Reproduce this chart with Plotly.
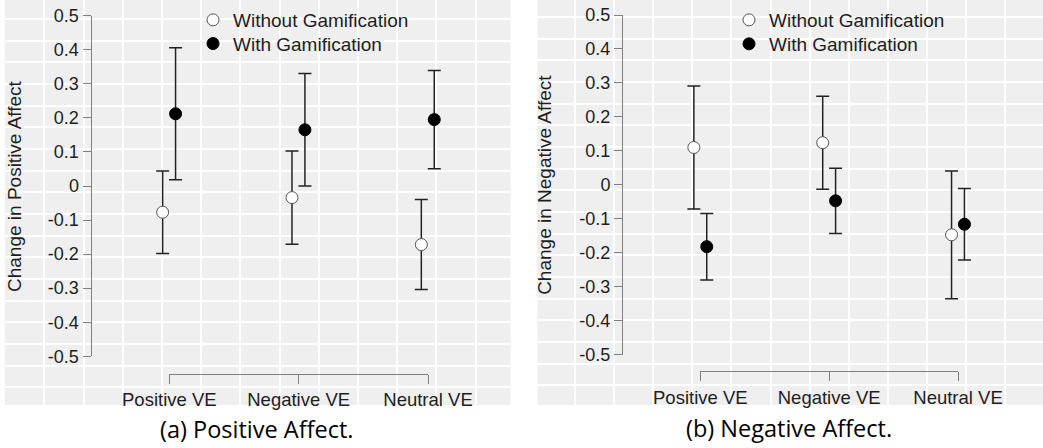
import plotly.graph_objects as go
import numpy as np

# ---------------- data ----------------
categories = ["Positive VE", "Negative VE", "Neutral VE"]
series_names = ["Without Gamification", "With Gamification"]

# (a) Change in Positive Affect
pa_without_mean = [-0.077, -0.034, -0.172]
pa_without_err = [0.121, 0.137, 0.132]
pa_with_mean = [0.212, 0.165, 0.195]
pa_with_err = [0.194, 0.165, 0.144]

# (b) Change in Negative Affect
na_without_mean = [0.110, 0.124, -0.147]
na_without_err = [0.181, 0.137, 0.188]
na_with_mean = [-0.182, -0.047, -0.116]
na_with_err = [0.098, 0.096, 0.105]

y_tickvals = [0.5, 0.4, 0.3, 0.2, 0.1, 0.0, -0.1, -0.2, -0.3, -0.4, -0.5]
y_ticktext = ["0.5", "0.4", "0.3", "0.2", "0.1", "0", "-0.1", "-0.2", "-0.3", "-0.4", "-0.5"]

y_titles = ["Change in Positive Affect", "Change in Negative Affect"]
captions = ["(a) Positive Affect.", "(b) Negative Affect."]

# ---------------- style / layout helpers ----------------
W, H = 1043, 448
DODGE = 0.05


def fx(p):
    return p / W


def fy(p):
    return 1 - p / H


FONT = "Liberation Sans, Arial, sans-serif"
TXT = "#1e1e1e"
AXC = "#808080"
BG = "#efefef"

cat_pos = np.arange(1, len(categories) + 1)

# axis ids: background grid -> x/y, x2/y2 ; data -> x3/y3, x4/y4 ; brackets -> x5, x6
panels = [
    dict(bgx="x", bgy="y", xa="x3", ya="y3", brx="x5", legends=("legend", "legend3"),
         wo=(pa_without_mean, pa_without_err), wi=(pa_with_mean, pa_with_err)),
    dict(bgx="x2", bgy="y2", xa="x4", ya="y4", brx="x6", legends=("legend2", "legend4"),
         wo=(na_without_mean, na_without_err), wi=(na_with_mean, na_with_err)),
]

fig = go.Figure()

# background grid subplots first (so they sit underneath)
for p in panels:
    fig.add_trace(go.Scatter(x=[], y=[], xaxis=p["bgx"], yaxis=p["bgy"],
                             showlegend=False, hoverinfo="skip"))

for p in panels:
    for k, (name, (m, e), off, fill, lc) in enumerate([
        (series_names[0], p["wo"], -DODGE, "white", "#555555"),
        (series_names[1], p["wi"], DODGE, "black", "black"),
    ]):
        fig.add_trace(go.Scatter(
            x=cat_pos + off, y=m, mode="markers", name=name,
            xaxis=p["xa"], yaxis=p["ya"], legend=p["legends"][k],
            marker=dict(size=12, color=fill, line=dict(color=lc, width=1)),
            error_y=dict(type="data", array=e, visible=True,
                         color="#222222", thickness=1.5, width=6.5),
        ))

for p in panels:
    fig.add_trace(go.Scatter(x=[], y=[], xaxis=p["brx"], yaxis=p["ya"],
                             showlegend=False, hoverinfo="skip"))

# geometry (pixels)
left = dict(panel=(5, 510.7), grid_x0=39.3, grid_dx=39.2, grid_y0=19,
            data_x=(91.5, 505.4), data_y=(15.7, 356.3), brk_x=(169.3, 428), brk_y=374,
            title_x=14, cap=(256.5, 429), leg_x=193, leg_y=(19, 42.7))
right = dict(panel=(537.3, 1043), grid_x0=37.7, grid_dx=39.1, grid_y0=17,
             data_x=(623, 1035.3), data_y=(15, 354.7), brk_x=(700.3, 958), brk_y=371.3,
             title_x=545, cap=(789.3, 428), leg_x=729, leg_y=(19, 43))

PANEL_BOTTOM = 405
GRID_DY = 21.67
LEG_CENTER_OFFSET = 18


def axkey(a):
    return ("xaxis" if a[0] == "x" else "yaxis") + a[1:]


layout_axes = {}
annotations = []
shapes = []
legends = {}

leg_common = dict(bgcolor="rgba(0,0,0,0)", borderwidth=0, xanchor="left", yanchor="top",
                  font=dict(family=FONT, size=19, color=TXT),
                  itemclick=False, itemdoubleclick=False)

for i, (g, p) in enumerate(zip([left, right], panels)):
    pw = g["panel"][1] - g["panel"][0]

    layout_axes[axkey(p["bgx"])] = dict(
        domain=[fx(g["panel"][0]), fx(g["panel"][1])], range=[0, pw],
        anchor=p["bgy"], showgrid=True, gridcolor="white", gridwidth=2,
        tickmode="linear", tick0=g["grid_x0"], dtick=g["grid_dx"],
        showticklabels=False, ticks="", zeroline=False, showline=False, fixedrange=True)
    layout_axes[axkey(p["bgy"])] = dict(
        domain=[fy(PANEL_BOTTOM), 1], range=[PANEL_BOTTOM, 0],
        anchor=p["bgx"], showgrid=True, gridcolor="white", gridwidth=2,
        tickmode="linear", tick0=g["grid_y0"], dtick=GRID_DY,
        showticklabels=False, ticks="", zeroline=False, showline=False, fixedrange=True)
    shapes.append(dict(type="rect", xref=p["bgx"] + " domain", yref=p["bgy"] + " domain",
                       x0=0, x1=1, y0=0, y1=1, fillcolor=BG, line=dict(width=0),
                       layer="below"))

    layout_axes[axkey(p["xa"])] = dict(
        domain=[fx(g["data_x"][0]), fx(g["data_x"][1])], range=[0.4, 3.6],
        anchor=p["ya"], showgrid=False, zeroline=False, showline=False,
        showticklabels=False, ticks="", fixedrange=True)
    layout_axes[axkey(p["ya"])] = dict(
        domain=[fy(g["data_y"][1]), fy(g["data_y"][0])], range=[-0.5, 0.5],
        anchor=p["xa"], showgrid=False, zeroline=False, showline=True,
        linecolor=AXC, linewidth=1, ticks="outside", ticklen=8,
        tickcolor=AXC, tickwidth=1, tickvals=y_tickvals, ticktext=y_ticktext,
        tickfont=dict(family=FONT, size=18, color=TXT), fixedrange=True)
    layout_axes[axkey(p["brx"])] = dict(
        domain=[fx(g["brk_x"][0]), fx(g["brk_x"][1])], range=[1, 3],
        anchor="free", position=fy(g["brk_y"]), showgrid=False,
        zeroline=False, showline=True, linecolor=AXC, linewidth=1,
        ticks="outside", ticklen=9, tickcolor=AXC, tickwidth=1,
        tickvals=list(cat_pos), ticktext=categories,
        tickfont=dict(family=FONT, size=18.5, color=TXT), fixedrange=True)

    annotations.append(dict(text=y_titles[i], xref="paper", yref="paper",
                            x=fx(g["title_x"]), y=fy((g["data_y"][0] + g["data_y"][1]) / 2),
                            textangle=-90, showarrow=False, xanchor="center", yanchor="middle",
                            font=dict(family=FONT, size=19, color=TXT)))
    annotations.append(dict(text=captions[i], xref="paper", yref="paper",
                            x=fx(g["cap"][0]), y=fy(g["cap"][1]), showarrow=False,
                            xanchor="center", yanchor="middle",
                            font=dict(family="Open Sans, sans-serif", size=23.5, color="black")))

    for k, lid in enumerate(p["legends"]):
        legends[lid] = dict(x=fx(g["leg_x"]), y=fy(g["leg_y"][k] - LEG_CENTER_OFFSET),
                            **leg_common)

fig.update_layout(
    width=W, height=H,
    autosize=False,
    margin=dict(l=0, r=0, t=0, b=0, pad=0, autoexpand=False),
    paper_bgcolor="white",
    plot_bgcolor="rgba(0,0,0,0)",
    showlegend=True,
    annotations=annotations,
    shapes=shapes,
    **legends,
    **layout_axes,
)

fig.write_html("out.html", config={"displayModeBar": False},
               post_script="document.body.style.margin='0px';")
